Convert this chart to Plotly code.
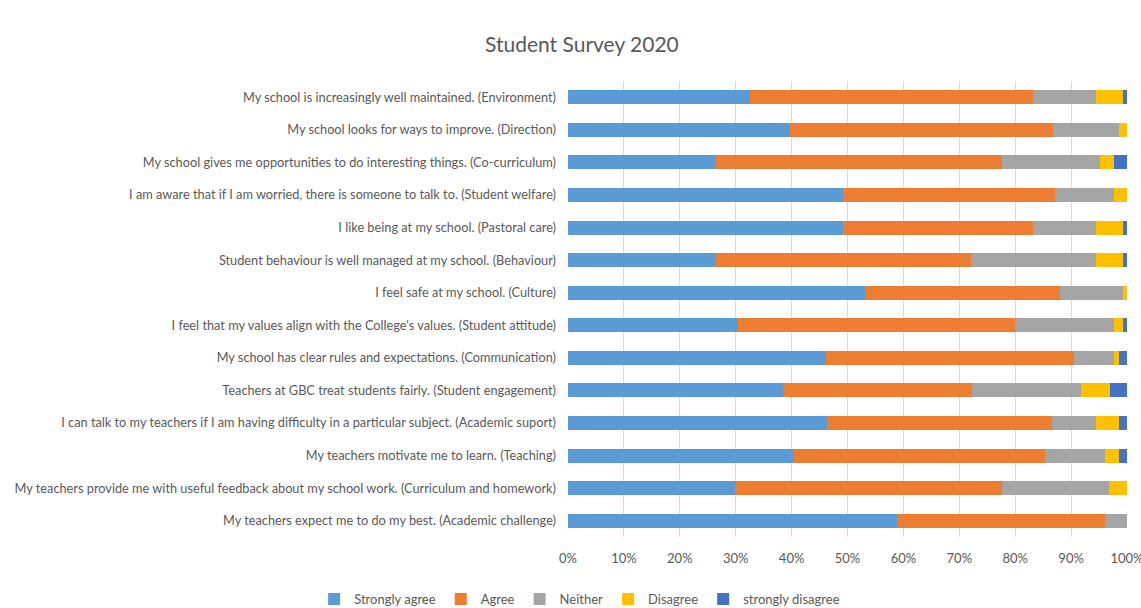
import plotly.graph_objects as go

categories = [
    "My school is increasingly well maintained. (Environment)",
    "My school looks for ways to improve. (Direction)",
    "My school gives me opportunities to do interesting things. (Co-curriculum)",
    "I am aware that if I am worried, there is someone to talk to. (Student welfare)",
    "I like being at my school. (Pastoral care)",
    "Student behaviour is well managed at my school. (Behaviour)",
    "I feel safe at my school. (Culture)",
    "I feel that my values align with the College's values. (Student attitude)",
    "My school has clear rules and expectations. (Communication)",
    "Teachers at GBC treat students fairly. (Student engagement)",
    "I can talk to my teachers if I am having difficulty in a particular subject. (Academic suport)",
    "My teachers motivate me to learn. (Teaching)",
    "My teachers provide me with useful feedback about my school work. (Curriculum and homework)",
    "My teachers expect me to do my best. (Academic challenge)",
]

strongly_agree = [32.5, 39.8, 26.4, 49.2, 49.2, 26.4, 53.2, 30.4, 46.1, 38.5, 46.4, 40.3, 29.8, 58.9]
agree = [50.6, 46.9, 51.3, 38.0, 33.9, 45.7, 34.8, 49.5, 44.5, 33.8, 40.1, 45.0, 47.8, 37.2]
neither = [11.3, 11.8, 17.5, 10.5, 11.3, 22.3, 11.3, 17.8, 7.1, 19.5, 7.9, 10.7, 19.2, 3.9]
disagree = [4.9, 1.5, 2.5, 2.3, 4.9, 4.9, 0.7, 1.6, 0.8, 5.1, 4.1, 2.5, 3.2, 0.0]
strongly_disagree = [0.7, 0.0, 2.3, 0.0, 0.7, 0.7, 0.0, 0.7, 1.5, 3.1, 1.5, 1.5, 0.0, 0.0]

series_names = ["Strongly agree", "Agree", "Neither", "Disagree", "strongly disagree"]
series_values = [strongly_agree, agree, neither, disagree, strongly_disagree]
colors = ["#5B9BD5", "#ED7D31", "#A5A5A5", "#FFC000", "#4472C4"]
x_ticks = list(range(0, 101, 10))
x_tick_labels = [f"{v}%" for v in x_ticks]

FONT = "Lato, sans-serif"
TXT = "#595959"

fig = go.Figure()
for name, vals, col in zip(series_names, series_values, colors):
    fig.add_trace(go.Bar(
        y=categories, x=vals, name=name, orientation="h",
        marker=dict(color=col, line=dict(width=0)), width=0.43,
    ))

fig.update_layout(
    barmode="stack",
    barnorm="percent",
    width=1141, height=608,
    margin=dict(l=568, r=14, t=81, b=71, autoexpand=False),
    paper_bgcolor="white", plot_bgcolor="white",
    font=dict(family=FONT, size=13, color=TXT),
    title=dict(text="Student Survey 2020", x=0.51, xanchor="center", y=0.927, yanchor="middle",
               font=dict(family=FONT, size=21, color=TXT)),
    legend=dict(orientation="h", x=0.508, xref="container", xanchor="center",
                y=-0.136, yanchor="middle", font=dict(family=FONT, size=13, color=TXT),
                itemwidth=30, traceorder="normal", tracegroupgap=0),
)
fig.update_xaxes(range=[0, 100], tickvals=x_ticks, ticktext=x_tick_labels,
                 showgrid=True, gridcolor="#D9D9D9", gridwidth=1, zeroline=False,
                 showline=False, ticks="", tickfont=dict(family=FONT, size=13, color=TXT),
                 ticklabelstandoff=12, ticklabeloverflow="allow", fixedrange=True)
fig.update_yaxes(autorange="reversed", showgrid=False, showline=False, ticks="",
                 ticklabelstandoff=11, tickfont=dict(family=FONT, size=12.75, color=TXT),
                 automargin=False)

fig.write_html("out.html")
